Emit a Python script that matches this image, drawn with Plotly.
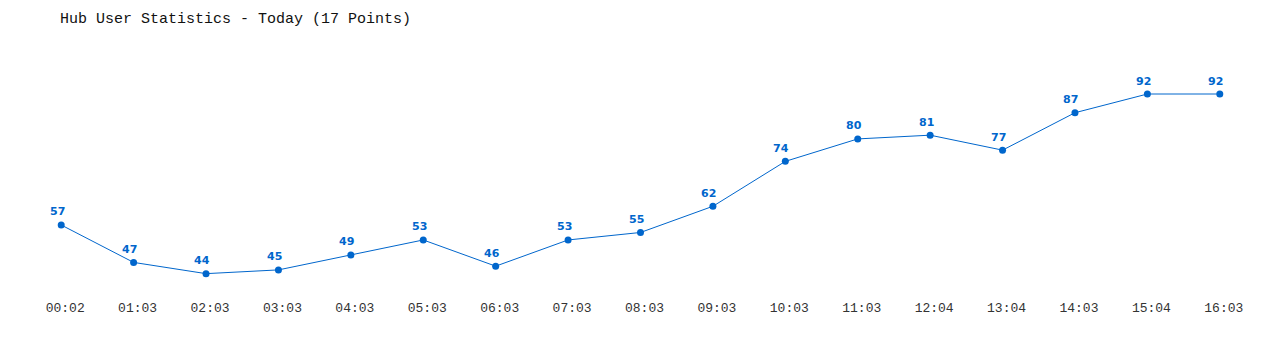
import plotly.graph_objects as go

times = ["00:02", "01:03", "02:03", "03:03", "04:03", "05:03", "06:03", "07:03", "08:03",
         "09:03", "10:03", "11:03", "12:04", "13:04", "14:03", "15:04", "16:03"]
users = [57, 47, 44, 45, 49, 53, 46, 53, 55, 62, 74, 80, 81, 77, 87, 92, 92]

color = "#0066cc"
idx = list(range(len(times)))

fig = go.Figure(go.Scatter(
    x=idx, y=users, mode="lines+markers",
    line=dict(color=color, width=1),
    marker=dict(color=color, size=7),
    hoverinfo="x+y",
))

for i, v in zip(idx, users):
    fig.add_annotation(x=i, y=v, text=str(v), showarrow=False,
                       xanchor="center", yanchor="middle", xshift=-4, yshift=13,
                       font=dict(family="DejaVu Sans", size=11, color=color, weight="bold"))

fig.update_layout(
    width=1280, height=350,
    margin=dict(l=25, r=24, t=50, b=60),
    paper_bgcolor="white", plot_bgcolor="white",
    showlegend=False,
    title=dict(text="Hub User Statistics - Today (17 Points)", x=60/1280, xanchor="left",
               y=1 - 18/350, yanchor="middle",
               font=dict(family="Liberation Mono", size=15, color="#111")),
    xaxis=dict(range=[-0.5, 16.5], tickmode="array", tickvals=idx, ticktext=times,
               showgrid=False, zeroline=False, showline=False, ticks="",
               ticklabelstandoff=8, ticklabelshift=4,
               tickfont=dict(family="Liberation Mono", size=13, color="#333"),
               fixedrange=True),
    yaxis=dict(range=[39.63, 103.76], visible=False, showgrid=False, fixedrange=True),
)

fig.write_html("out.html")
